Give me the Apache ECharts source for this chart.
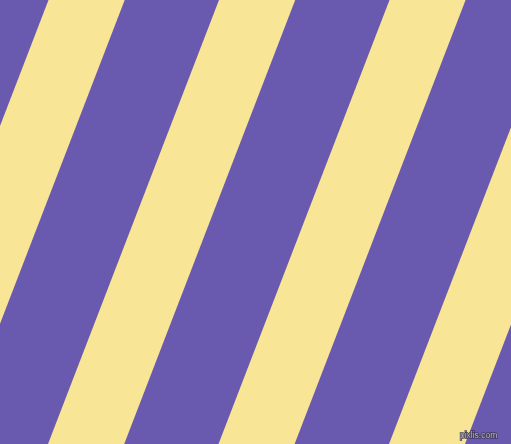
<!DOCTYPE html>
<html>
<head>
<meta charset="utf-8">
<script src="https://cdn.jsdelivr.net/npm/echarts@6/dist/echarts.min.js"></script>
<style>
html,body{margin:0;padding:0;background:#6959AF;}
#chart{width:511px;height:444px;}
</style>
</head>
<body>
<div id="chart"></div>
<script>
// Yellow stripes: x of left and right edge at the top (y = 0)
const stripeTopLeft = [-122, 48.5, 219, 389.5, 560];
const stripeTopRight = [-46, 124.7, 295.2, 465.6, 636];
// horizontal shift of each edge from top (y=0) to bottom (y=444)
const stripeShift = [171, 171, 171, 171, 171];
const canvasW = 511, canvasH = 444;
const watermark = 'pixlis.com';

const data = stripeTopLeft.map((x, i) => [x, stripeTopRight[i], stripeShift[i]]);

const chart = echarts.init(document.getElementById('chart'));
chart.setOption({
  backgroundColor: '#6959AF',
  animation: false,
  grid: {left: 0, right: 0, top: 0, bottom: 0},
  xAxis: {type: 'value', min: 0, max: canvasW, show: false},
  yAxis: {type: 'value', min: 0, max: canvasH, inverse: true, show: false},
  graphic: [{
    type: 'text',
    right: 13,
    bottom: 3,
    z: 100,
    style: {
      text: watermark,
      font: '8.5px "Liberation Sans", sans-serif',
      fill: '#b4b4c4',
      stroke: '#3e3a55',
      lineWidth: 1.5
    }
  }],
  series: [{
    type: 'custom',
    clip: true,
    data: data,
    renderItem: function (params, api) {
      const x0 = api.value(0), x1 = api.value(1), s = api.value(2);
      const pts = [
        api.coord([x0, 0]),
        api.coord([x1, 0]),
        api.coord([x1 - s, canvasH]),
        api.coord([x0 - s, canvasH])
      ];
      return {
        type: 'polygon',
        shape: {points: pts},
        style: {fill: '#F9E596'}
      };
    }
  }]
});
</script>
</body>
</html>
